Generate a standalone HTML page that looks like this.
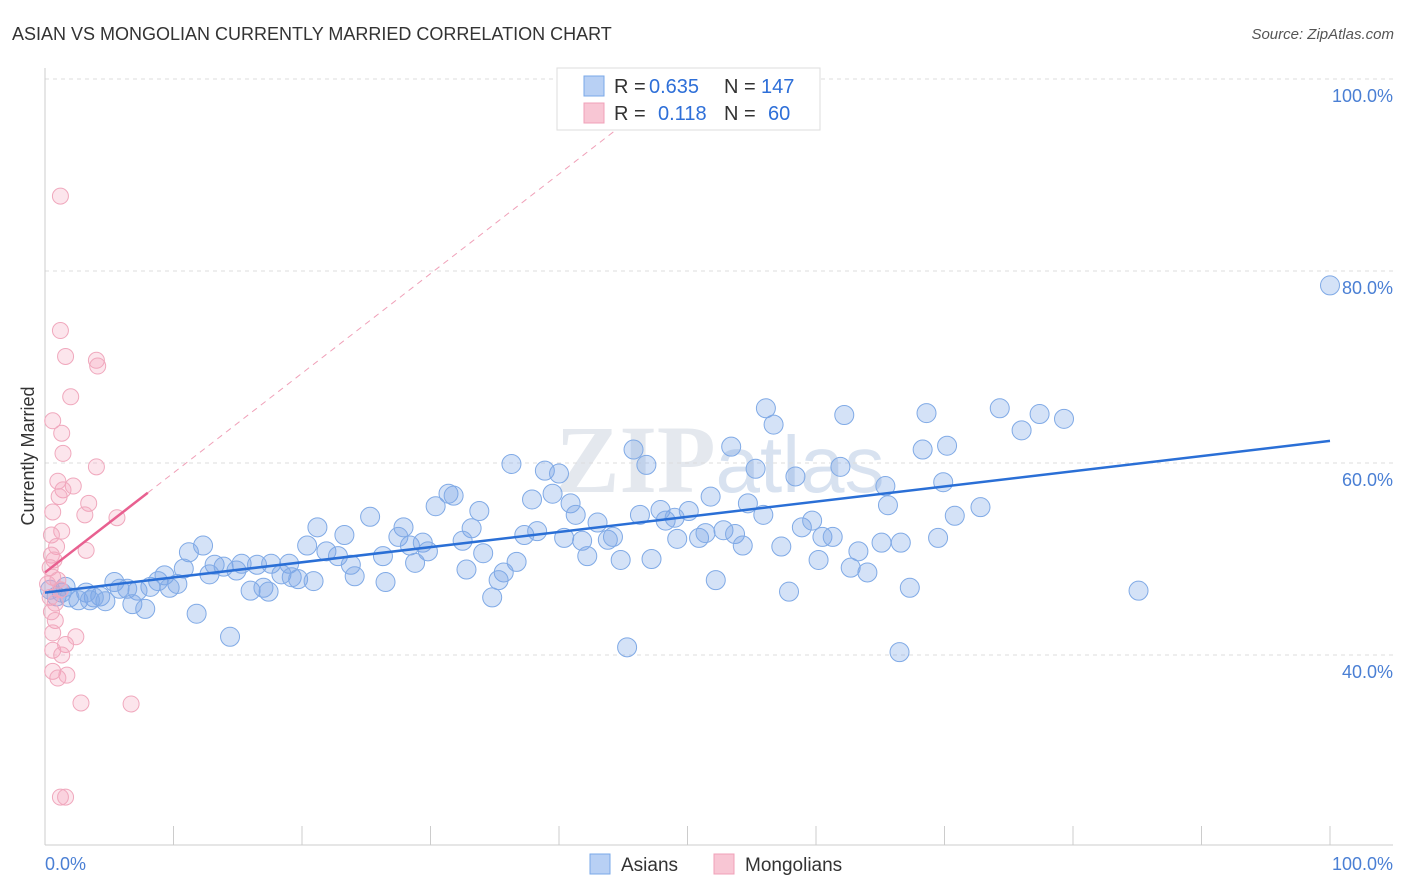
<!DOCTYPE html>
<html><head><meta charset="utf-8">
<style>
body{margin:0;background:#fff;font-family:"Liberation Sans",sans-serif;}
svg{display:block}
</style></head>
<body>
<svg id="chart" width="1406" height="892" viewBox="0 0 1406 892">
<text x="12" y="40" font-size="18" fill="#333">ASIAN VS MONGOLIAN CURRENTLY MARRIED CORRELATION CHART</text>
<text x="1394" y="39" font-size="15" fill="#555" text-anchor="end" font-style="italic">Source: ZipAtlas.com</text>
<text x="720" y="492" font-size="96" fill="#e4e8ee" text-anchor="middle" font-family="Liberation Serif,serif" font-weight="bold">ZIP<tspan font-family="Liberation Sans,sans-serif" font-weight="normal" font-size="80" fill="#d8e2f0">atlas</tspan></text>
<text transform="translate(34,456) rotate(-90)" font-size="18" fill="#333" text-anchor="middle">Currently Married</text>
<g id="grid"></g>
<g id="axes"></g>
<g id="pts"></g>
<g id="trends"></g>
<g>
<rect x="557" y="68" width="263" height="62" fill="#fff" stroke="#ddd"/>
<rect x="584" y="76" width="20" height="20" fill="#b8d0f4" stroke="#7aa8e8"/>
<rect x="584" y="103" width="20" height="20" fill="#f8c6d4" stroke="#f0a0b8"/>
<text x="614" y="93" font-size="20" fill="#333">R =</text>
<text x="649" y="93" font-size="20" fill="#2e6fd8">0.635</text>
<text x="724" y="93" font-size="20" fill="#333">N =</text>
<text x="761" y="93" font-size="20" fill="#2e6fd8">147</text>
<text x="614" y="120" font-size="20" fill="#333">R =</text>
<text x="658" y="120" font-size="20" fill="#2e6fd8">0.118</text>
<text x="724" y="120" font-size="20" fill="#333">N =</text>
<text x="768" y="120" font-size="20" fill="#2e6fd8">60</text>
</g>
<g>
<rect x="590" y="854" width="20" height="20" fill="#b8d0f4" stroke="#7aa8e8"/>
<text x="621" y="871" font-size="19" fill="#333">Asians</text>
<rect x="714" y="854" width="20" height="20" fill="#f8c6d4" stroke="#f0a0b8"/>
<text x="745" y="871" font-size="19" fill="#333">Mongolians</text>
</g>
</svg>
<script>
const yTicks=[40,60,80,100];
const yTickLabels=["40.0%","60.0%","80.0%","100.0%"];
const xTickVals=[0,10,20,30,40,50,60,70,80,90,100];
const xLabels=["0.0%","100.0%"];
const asianX=[100,56.1,56.7,62.2,68.6,74.3,77.4,79.3,76.0,70.2,68.3,53.4,45.8,46.8,36.3,38.9,40.0,55.3,58.4,61.9,65.4,69.9,31.4,31.8,37.9,39.5,40.9,30.4,33.8,41.3,47.9,50.1,51.8,54.7,55.9,65.6,72.8,70.8,25.3,21.2,27.9,33.2,23.3,27.5,43.0,46.3,48.3,49.0,52.8,53.7,58.9,59.7,60.5,61.3,37.3,38.3,40.4,41.8,43.8,44.2,49.2,50.9,51.4,54.3,57.3,65.1,66.6,69.5,63.3,20.4,21.9,22.8,26.3,28.4,29.4,29.8,32.5,34.1,36.7,42.2,44.8,47.2,60.2,62.7,64.0,32.8,35.7,28.8,23.8,24.1,26.5,35.3,34.8,52.2,57.9,67.3,85.1,45.3,66.5,11.2,12.3,10.8,13.2,13.9,15.3,16.5,17.6,19.0,12.8,14.9,18.4,19.2,19.7,20.9,9.3,8.8,10.3,8.2,9.7,16.0,17.0,17.4,5.4,5.8,6.4,7.2,6.8,7.8,11.8,14.4,4.3,4.7,3.8,3.2,2.6,1.9,1.3,0.9,0.4,1.6,3.5];
const asianY=[78.5,65.7,64.0,65.0,65.2,65.7,65.1,64.6,63.4,61.8,61.4,61.7,61.4,59.8,59.9,59.2,58.9,59.4,58.6,59.6,57.6,58.0,56.8,56.6,56.2,56.8,55.8,55.5,55.0,54.6,55.1,55.0,56.5,55.8,54.6,55.6,55.4,54.5,54.4,53.3,53.3,53.2,52.5,52.3,53.8,54.6,54.0,54.3,53.0,52.6,53.3,54.0,52.3,52.3,52.5,52.9,52.2,51.9,52.0,52.3,52.1,52.2,52.7,51.4,51.3,51.7,51.7,52.2,50.8,51.4,50.8,50.3,50.3,51.4,51.7,50.8,51.9,50.6,49.7,50.3,49.9,50.0,49.9,49.1,48.6,48.9,48.6,49.6,49.4,48.2,47.6,47.8,46.0,47.8,46.6,47.0,46.7,40.8,40.3,50.7,51.4,49.0,49.4,49.2,49.5,49.4,49.5,49.5,48.4,48.8,48.4,48.1,47.9,47.7,48.3,47.7,47.4,47.1,47.0,46.7,47.0,46.6,47.6,46.9,46.9,46.7,45.3,44.8,44.3,41.9,46.1,45.6,46.0,46.5,45.7,46.0,46.5,46.1,46.8,47.1,45.7];
const mongX=[1.2,1.2,1.6,4.0,4.1,2.0,0.6,1.3,1.4,4.0,1.0,2.2,1.4,1.1,3.4,3.1,0.6,5.6,1.3,0.5,0.9,0.5,3.2,0.7,0.4,0.6,1.0,0.2,1.2,0.4,0.8,0.5,0.8,0.6,2.4,1.6,0.6,1.3,0.6,1.7,1.0,2.8,6.7,1.2,1.6];
const mongY=[87.8,73.8,71.1,70.7,70.1,66.9,64.4,63.1,61.0,59.6,58.1,57.6,57.2,56.5,55.8,54.6,54.9,54.3,52.9,52.5,51.3,50.4,50.9,49.9,49.1,48.1,47.8,47.4,46.8,46.0,45.4,44.5,43.6,42.3,41.9,41.1,40.5,40.0,38.3,37.9,37.6,35.0,34.9,25.2,25.2];
const asianTrend=[46.5,62.3];
const mongTrend=[48.6,56.9,8];
const NS="http://www.w3.org/2000/svg";
const X=v=>45+v*12.85;
const Y=v=>655-(v-40)*9.6;
function mk(tag,attrs,parent){const e=document.createElementNS(NS,tag);for(const k in attrs)e.setAttribute(k,attrs[k]);parent.appendChild(e);return e;}
const grid=document.getElementById('grid'),axes=document.getElementById('axes'),pts=document.getElementById('pts'),tr=document.getElementById('trends');
yTicks.forEach((t,i)=>{
 const l=mk('line',{x1:45,x2:1393,y1:Y(t),y2:Y(t),stroke:'#ddd','stroke-dasharray':'4,4'},grid);
 
 
 const tx=mk('text',{x:1393,y:Y(t)+23,'font-size':18,fill:'#4a7fd4','text-anchor':'end'},axes);
 tx.textContent=yTickLabels[i];
 
 
});
const ax=mk('line',{x1:45,x2:1393,y1:845,y2:845,stroke:'#ccc'},axes);


const ay=mk('line',{x1:45,x2:45,y1:68,y2:845,stroke:'#ccc'},axes);


xTickVals.forEach(t=>{
 const l=mk('line',{x1:X(t),x2:X(t),y1:826,y2:845,stroke:'#ccc'},axes);
 
 
});
const xl0=mk('text',{x:45,y:870,'font-size':18,fill:'#4a7fd4'},axes);xl0.textContent=xLabels[0];


const xl1=mk('text',{x:1393,y:870,'font-size':18,fill:'#4a7fd4','text-anchor':'end'},axes);xl1.textContent=xLabels[1];


asianX.forEach((x,i)=>{
 const c=mk('circle',{cx:X(x),cy:Y(asianY[i]),r:9.5,fill:'rgba(120,165,230,0.32)',stroke:'#80aae6','stroke-width':1},pts);
 
 
});
mongX.forEach((x,i)=>{
 const c=mk('circle',{cx:X(x),cy:Y(mongY[i]),r:8,fill:'rgba(245,160,185,0.28)',stroke:'#f0a8bd','stroke-width':1},pts);
 
 
});
const bl=mk('line',{x1:X(0),y1:Y(asianTrend[0]),x2:X(100),y2:Y(asianTrend[1]),stroke:'#2a6fd6','stroke-width':2.5},tr);


const slope=(mongTrend[1]-mongTrend[0])/mongTrend[2];
const xEnd=(97-mongTrend[0])/slope;
const dl=mk('line',{x1:X(mongTrend[2]),y1:Y(mongTrend[1]),x2:X(xEnd),y2:Y(mongTrend[0]+slope*xEnd),stroke:'#f0a0b8','stroke-width':1,'stroke-dasharray':'6,5'},tr);


const pl=mk('line',{x1:X(0),y1:Y(mongTrend[0]),x2:X(mongTrend[2]),y2:Y(mongTrend[1]),stroke:'#e86090','stroke-width':2.5},tr);


</script>
</body></html>
